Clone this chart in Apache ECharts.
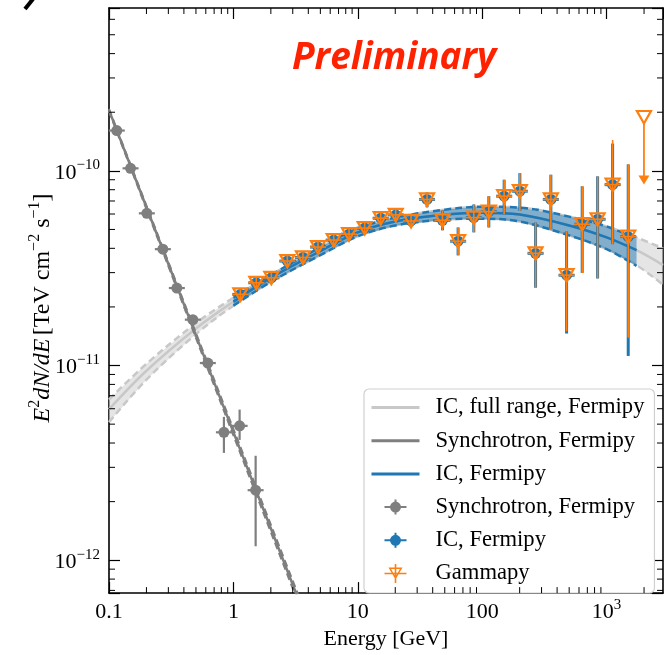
<!DOCTYPE html>
<html><head><meta charset="utf-8">
<script src="https://cdn.jsdelivr.net/npm/echarts@6/dist/echarts.min.js"></script>
<style>html,body{margin:0;padding:0;background:#fff}#c{width:664px;height:655px}</style>
</head><body><div id="c"></div>
<script>
// ---------- axes ----------
const xMin = 0.1, xMax = 2840;
const yMin = 6.78e-13, yMax = 6.86e-10;
const xTickValues = [0.1, 1, 10, 100, 1000];
const xTickLabels = ['{b|0.1}', '{b|1}', '{b|10}', '{b|100}', '{b|10}{s|3}'];
const yTickValues = [1e-12, 1e-11, 1e-10];
const yTickLabels = ['{b|10}{s|−12}', '{b|10}{s|−11}', '{b|10}{s|−10}'];

// ---------- model: IC full range (Fermipy) ----------
const icFullE  = [0.1, 0.2, 0.5, 1, 2, 5, 10, 20, 50, 100, 200, 500, 1000, 1740, 2840];
const icFullC  = [5.96e-12, 9.40e-12, 1.55e-11, 2.13e-11, 2.82e-11, 3.87e-11, 4.83e-11, 5.49e-11, 5.96e-11, 6.10e-11, 5.96e-11, 5.24e-11, 4.55e-11, 3.91e-11, 3.28e-11];
const icFullHi = [6.69e-12, 1.02e-11, 1.65e-11, 2.23e-11, 2.92e-11, 4.05e-11, 5.06e-11, 5.75e-11, 6.32e-11, 6.54e-11, 6.47e-11, 5.82e-11, 5.18e-11, 4.55e-11, 4.00e-11];
const icFullLo = [5.12e-12, 8.46e-12, 1.45e-11, 2.03e-11, 2.69e-11, 3.69e-11, 4.61e-11, 5.24e-11, 5.62e-11, 5.68e-11, 5.49e-11, 4.66e-11, 3.96e-11, 3.28e-11, 2.60e-11];

// ---------- model: IC (Fermipy, fit range) ----------
const icModE  = [1, 2, 5, 10, 20, 50, 100, 200, 500, 1000, 1740];
const icModC  = [2.13e-11, 2.82e-11, 3.87e-11, 4.83e-11, 5.49e-11, 5.96e-11, 6.10e-11, 5.96e-11, 5.24e-11, 4.55e-11, 3.91e-11];
const icModHi = [2.23e-11, 2.92e-11, 4.05e-11, 5.06e-11, 5.75e-11, 6.32e-11, 6.54e-11, 6.47e-11, 5.82e-11, 5.18e-11, 4.48e-11];
const icModLo = [2.03e-11, 2.69e-11, 3.69e-11, 4.61e-11, 5.24e-11, 5.62e-11, 5.68e-11, 5.49e-11, 4.66e-11, 3.96e-11, 3.25e-11];

// ---------- model: Synchrotron (Fermipy) ----------
const synModE  = [0.1, 0.3, 1, 3.5];
const synModC  = [2.05e-10, 3.32e-11, 4.55e-12, 5.82e-13];
const synModHi = [2.08e-10, 3.40e-11, 4.72e-12, 6.10e-13];
const synModLo = [2.02e-10, 3.24e-11, 4.38e-12, 5.55e-13];

// ---------- flux points: Synchrotron (Fermipy) ----------
const synE  = [0.1155, 0.149, 0.2014, 0.271, 0.351, 0.472, 0.623, 0.839, 1.122, 1.509];
const synF  = [1.61e-10, 1.03e-10, 6.05e-11, 3.96e-11, 2.50e-11, 1.72e-11, 1.03e-11, 4.54e-12, 4.90e-12, 2.29e-12];
const synLo = [1.57e-10, 1.00e-10, 5.88e-11, 3.84e-11, 2.42e-11, 1.66e-11, 9.8e-12, 3.56e-12, 4.15e-12, 1.18e-12];
const synHi = [1.65e-10, 1.06e-10, 6.22e-11, 4.08e-11, 2.58e-11, 1.78e-11, 1.08e-11, 5.45e-12, 5.94e-12, 3.44e-12];

// ---------- flux points: IC (Fermipy) ----------
const icE  = [1.137, 1.528, 2.018, 2.714, 3.623, 4.784, 6.40, 8.50, 11.36, 15.28, 20.18, 26.79, 36.03, 47.93, 64.0, 85.6, 113.0, 150.1, 200.7, 268.5, 356.3, 476.7, 636.5, 846.3, 1117.6, 1492];
const icF  = [2.32e-11, 2.66e-11, 2.82e-11, 3.44e-11, 3.59e-11, 4.06e-11, 4.41e-11, 4.73e-11, 5.08e-11, 5.71e-11, 5.94e-11, 5.53e-11, 7.13e-11, 5.57e-11, 4.35e-11, 5.75e-11, 6.17e-11, 7.41e-11, 7.86e-11, 3.77e-11, 7.13e-11, 2.91e-11, 5.32e-11, 5.64e-11, 8.49e-11, 4.59e-11];
const icLo = [2.19e-11, 2.51e-11, 2.66e-11, 3.25e-11, 3.39e-11, 3.83e-11, 4.16e-11, 4.45e-11, 4.78e-11, 5.36e-11, 5.57e-11, 5.16e-11, 6.50e-11, 4.95e-11, 3.68e-11, 4.83e-11, 5.12e-11, 5.98e-11, 6.22e-11, 2.51e-11, 5.02e-11, 1.46e-11, 2.99e-11, 2.80e-11, 4.20e-11, 1.12e-11];
const icHi = [2.46e-11, 2.82e-11, 2.99e-11, 3.65e-11, 3.81e-11, 4.31e-11, 4.68e-11, 5.03e-11, 5.40e-11, 6.08e-11, 6.33e-11, 5.91e-11, 7.75e-11, 6.25e-11, 5.12e-11, 6.72e-11, 7.41e-11, 9.00e-11, 9.73e-11, 5.43e-11, 9.55e-11, 4.89e-11, 8.33e-11, 9.37e-11, 1.38e-10, 1.08e-10];

// ---------- flux points: Gammapy ----------
const gpE  = [1.137, 1.528, 2.018, 2.714, 3.623, 4.784, 6.40, 8.50, 11.36, 15.28, 20.18, 26.79, 36.03, 47.93, 64.0, 85.6, 113.0, 150.1, 200.7, 268.5, 356.3, 476.7, 636.5, 846.3, 1117.6, 1492];
const gpF  = [2.32e-11, 2.66e-11, 2.82e-11, 3.44e-11, 3.59e-11, 4.06e-11, 4.41e-11, 4.73e-11, 5.08e-11, 5.71e-11, 5.94e-11, 5.53e-11, 7.13e-11, 5.57e-11, 4.35e-11, 5.75e-11, 6.17e-11, 7.41e-11, 7.86e-11, 3.77e-11, 7.13e-11, 2.91e-11, 5.32e-11, 5.64e-11, 8.49e-11, 4.59e-11];
const gpLo = [2.19e-11, 2.51e-11, 2.66e-11, 3.25e-11, 3.39e-11, 3.83e-11, 4.16e-11, 4.45e-11, 4.78e-11, 5.36e-11, 5.57e-11, 5.16e-11, 6.50e-11, 4.95e-11, 3.68e-11, 4.83e-11, 5.12e-11, 5.98e-11, 6.22e-11, 2.51e-11, 5.02e-11, 1.50e-11, 2.99e-11, 2.80e-11, 4.20e-11, 1.39e-11];
const gpHi = [2.46e-11, 2.82e-11, 2.99e-11, 3.65e-11, 3.81e-11, 4.31e-11, 4.68e-11, 5.03e-11, 5.40e-11, 6.08e-11, 6.33e-11, 5.91e-11, 7.75e-11, 6.25e-11, 5.12e-11, 6.72e-11, 7.41e-11, 9.00e-11, 9.73e-11, 5.43e-11, 9.55e-11, 4.89e-11, 8.33e-11, 9.37e-11, 1.44e-10, 1.08e-10];
// upper limit [E, UL, arrow end]
const gpUL = [[1996, 1.89e-10, 8.5e-11]];

// legend labels
const legendNames = ['IC, full range, Fermipy', 'Synchrotron, Fermipy', 'IC, Fermipy', 'Synchrotron, Fermipy ', 'IC, Fermipy ', 'Gammapy'];

// ---------- build ----------
const SERIF = 'Liberation Serif';
const C_LGRAY = '#c8c8c8', C_GRAY = '#7f7f7f', C_BLUE = '#1f77b4', C_ORANGE = '#ff7f0e';

const xMinor = [];
for (let d = -1; d <= 3; d++) for (let m = 2; m <= 9; m++) { const v = m * Math.pow(10, d); if (v < xMax) xMinor.push(v); }
const yMinor = [];
for (let d = -13; d <= -10; d++) for (let m = 2; m <= 9; m++) { const v = m * Math.pow(10, d); if (v > yMin && v < yMax) yMinor.push(v); }

function pairs(E, V) { return E.map((e, i) => [e, V[i]]); }
function lineS(name, E, V, color, width, dashed, z) {
  return { type: 'line', name, data: pairs(E, V), symbol: 'none', showSymbol: false, smooth: 0.35,
    lineStyle: { color, width, type: dashed ? [7, 4] : 'solid' }, itemStyle: { color }, z, silent: true };
}
function fillS(name, E, lo, hi, fill, legendColor, z) {
  return { type: 'custom', name, data: pairs(E, lo), itemStyle: { color: legendColor }, z, silent: true,
    renderItem: (params, api) => {
      if (params.dataIndex !== 0) return null;
      const pts = [];
      for (let i = 0; i < E.length; i++) pts.push(api.coord([E[i], hi[i]]));
      for (let i = E.length - 1; i >= 0; i--) pts.push(api.coord([E[i], lo[i]]));
      return { type: 'polygon', shape: { points: pts }, style: { fill } };
    } };
}
function errS(name, E, F, lo, hi, color, lw, hw, marker, z) {
  return { type: 'custom', name, data: E.map((e, i) => [e, F[i], lo[i], hi[i]]), itemStyle: { color }, z, silent: true,
    renderItem: (params, api) => {
      const e = api.value(0);
      const p = api.coord([e, api.value(1)]);
      const pl = api.coord([e, api.value(2)]);
      const ph = api.coord([e, api.value(3)]);
      const ch = [
        { type: 'line', shape: { x1: p[0], y1: ph[1], x2: p[0], y2: pl[1] }, style: { stroke: color, lineWidth: lw } },
        { type: 'line', shape: { x1: p[0] - hw, y1: p[1], x2: p[0] + hw, y2: p[1] }, style: { stroke: color, lineWidth: lw } }
      ];
      if (marker === 'circle') ch.push({ type: 'circle', shape: { cx: p[0], cy: p[1], r: 5.5 }, style: { fill: color } });
      if (marker === 'tri') ch.push({ type: 'polygon', shape: { points: [[p[0] - 7, p[1] - 6], [p[0] + 7, p[1] - 6], [p[0], p[1] + 6.5]] }, style: { fill: 'none', stroke: color, lineWidth: 2.2 } });
      return { type: 'group', children: ch };
    } };
}

const series = [
  fillS('IC, full range, Fermipy', icFullE, icFullLo, icFullHi, 'rgba(211,211,211,0.6)', C_LGRAY, 1),
  lineS('_icFullHi', icFullE, icFullHi, C_LGRAY, 2.5, true, 1),
  lineS('_icFullLo', icFullE, icFullLo, C_LGRAY, 2.5, true, 1),
  lineS('_icFullC', icFullE, icFullC, C_LGRAY, 2.5, false, 1),
  fillS('IC, Fermipy', icModE, icModLo, icModHi, 'rgba(31,119,180,0.5)', C_BLUE, 2),
  lineS('_icHi', icModE, icModHi, C_BLUE, 2.5, true, 2),
  lineS('_icLo', icModE, icModLo, C_BLUE, 2.5, true, 2),
  lineS('_icC', icModE, icModC, C_BLUE, 2.5, false, 2),
  lineS('_synHi', synModE, synModHi, C_GRAY, 2, true, 3),
  lineS('_synLo', synModE, synModLo, C_GRAY, 2, true, 3),
  lineS('Synchrotron, Fermipy', synModE, synModC, C_GRAY, 2.5, false, 3),
  errS('Synchrotron, Fermipy ', synE, synF, synLo, synHi, C_GRAY, 2.2, 8, 'circle', 4),
  errS('IC, Fermipy ', icE, icF, icLo, icHi, C_BLUE, 3, 8, 'circle', 5),
  errS('Gammapy', gpE, gpF, gpLo, gpHi, C_ORANGE, 1.6, 8, 'tri', 6),
  { type: 'custom', name: '_gpUL', data: gpUL, z: 6, silent: true, itemStyle: { color: C_ORANGE },
    renderItem: (params, api) => {
      const e = api.value(0);
      const p = api.coord([e, api.value(1)]);
      const q = api.coord([e, api.value(2)]);
      return { type: 'group', children: [
        { type: 'line', shape: { x1: p[0], y1: p[1], x2: p[0], y2: q[1] - 8 }, style: { stroke: C_ORANGE, lineWidth: 1.8 } },
        { type: 'line', shape: { x1: p[0] - 8, y1: p[1] - 6, x2: p[0] + 8, y2: p[1] - 6 }, style: { stroke: C_ORANGE, lineWidth: 1.8 } },
        { type: 'polygon', shape: { points: [[p[0] - 7, p[1] - 6], [p[0] + 7, p[1] - 6], [p[0], p[1] + 6.5]] }, style: { fill: '#fff', stroke: C_ORANGE, lineWidth: 2.2 } },
        { type: 'polygon', shape: { points: [[q[0] - 5.5, q[1] - 9], [q[0] + 5.5, q[1] - 9], [q[0], q[1]]] }, style: { fill: C_ORANGE } }
      ] };
    } },
  // minor ticks (x)
  { type: 'custom', name: '_xminor', data: xMinor.map(v => [v, yMin]), z: 10, silent: true,
    renderItem: (params, api) => {
      const cs = params.coordSys; const p = api.coord([api.value(0), api.value(1)]);
      return { type: 'group', children: [
        { type: 'line', shape: { x1: p[0], y1: cs.y + cs.height, x2: p[0], y2: cs.y + cs.height - 6 }, style: { stroke: '#000', lineWidth: 1 } },
        { type: 'line', shape: { x1: p[0], y1: cs.y, x2: p[0], y2: cs.y + 6 }, style: { stroke: '#000', lineWidth: 1 } } ] };
    } },
  // minor ticks (y)
  { type: 'custom', name: '_yminor', data: yMinor.map(v => [xMin, v]), z: 10, silent: true,
    renderItem: (params, api) => {
      const cs = params.coordSys; const p = api.coord([api.value(0), api.value(1)]);
      return { type: 'group', children: [
        { type: 'line', shape: { x1: cs.x, y1: p[1], x2: cs.x + 6, y2: p[1] }, style: { stroke: '#000', lineWidth: 1 } },
        { type: 'line', shape: { x1: cs.x + cs.width, y1: p[1], x2: cs.x + cs.width - 6, y2: p[1] }, style: { stroke: '#000', lineWidth: 1 } } ] };
    } }
];

function findLabel(vals, labels, v) {
  for (let i = 0; i < vals.length; i++) if (Math.abs(Math.log10(vals[i]) - Math.log10(v)) < 1e-6) return labels[i];
  return '';
}
const labelRich = {
  b: { fontFamily: SERIF, fontSize: 22, lineHeight: 26, verticalAlign: 'bottom', color: '#000' },
  s: { fontFamily: SERIF, fontSize: 15, lineHeight: 16, verticalAlign: 'top', color: '#000' }
};
const axisLineStyle = { color: '#000', width: 1.6 };
const majorTick = { show: true, inside: true, length: 11, lineStyle: { color: '#000', width: 1.2 } };

const iconLine = 'path://M0,0H48V3H0Z';
const iconErr = 'path://M0,0M48,20M13,9H35V11H13ZM23,2.5H25V17.5H23ZM18.5,10A5.5,5.5 0 1,1 29.5,10A5.5,5.5 0 1,1 18.5,10Z';
const iconTri = 'path://M0,0M48,20M17,4H31L24,16ZM19.6,5.6L24,13.2L28.4,5.6ZM13,9.2H35V10.8H13ZM23.2,0.5H24.8V19.5H23.2Z';

const option = {
  animation: false,
  backgroundColor: '#fff',
  grid: { left: 109, right: 1, top: 8, bottom: 55, containLabel: false },
  xAxis: [
    { type: 'log', logBase: 10, min: xMin, max: xMax, splitNumber: 5, position: 'bottom',
      name: 'Energy [GeV]', nameLocation: 'middle', nameGap: 25,
      nameTextStyle: { fontFamily: SERIF, fontSize: 22, color: '#000' },
      axisLine: { lineStyle: axisLineStyle }, axisTick: majorTick, splitLine: { show: false },
      axisLabel: { margin: 4, formatter: v => findLabel(xTickValues, xTickLabels, v), rich: labelRich, showMaxLabel: false } },
    { type: 'log', logBase: 10, min: xMin, max: xMax, splitNumber: 5, position: 'top',
      axisLine: { lineStyle: axisLineStyle }, axisTick: majorTick, splitLine: { show: false }, axisLabel: { show: false } }
  ],
  yAxis: [
    { type: 'log', logBase: 10, min: yMin, max: yMax, splitNumber: 3, position: 'left',
      axisLine: { lineStyle: axisLineStyle }, axisTick: majorTick, splitLine: { show: false },
      axisLabel: { margin: 9, formatter: v => findLabel(yTickValues, yTickLabels, v), rich: labelRich } },
    { type: 'log', logBase: 10, min: yMin, max: yMax, splitNumber: 3, position: 'right',
      axisLine: { lineStyle: axisLineStyle }, axisTick: majorTick, splitLine: { show: false }, axisLabel: { show: false } }
  ],
  legend: {
    orient: 'vertical', left: 364, top: 389, padding: [7, 10, 8, 7.5], itemGap: 10.2,
    itemWidth: 48, itemHeight: 20, selectedMode: false,
    backgroundColor: '#fff', borderColor: '#d0d0d0', borderWidth: 1.2, borderRadius: 5,
    itemStyle: { borderWidth: 0 },
    textStyle: { fontFamily: SERIF, fontSize: 22.6, color: '#000', lineHeight: 20, padding: [0, 0, 0, 11] },
    formatter: n => n.trim(),
    data: [
      { name: legendNames[0], icon: iconLine },
      { name: legendNames[1], icon: iconLine },
      { name: legendNames[2], icon: iconLine },
      { name: legendNames[3], icon: iconErr },
      { name: legendNames[4], icon: iconErr },
      { name: legendNames[5], icon: iconTri }
    ]
  },
  graphic: [
    { type: 'text', left: 292, top: 40, z: 20,
      style: { text: 'Preliminary', fill: '#ff2200', fontFamily: 'Open Sans', fontSize: 37, fontWeight: 'bold', fontStyle: 'italic' } },
    { type: 'text', x: 41, y: 308, rotation: Math.PI / 2, z: 20,
      style: {
        text: '{i|E}{s|2}{i|dN/dE} {n|[TeV cm}{s|−2}{n| s}{s|−1}{n|]}',
        align: 'center', verticalAlign: 'middle',
        rich: {
          i: { fontFamily: SERIF, fontStyle: 'italic', fontSize: 24, lineHeight: 28, verticalAlign: 'bottom', fill: '#000' },
          n: { fontFamily: SERIF, fontSize: 24, lineHeight: 28, verticalAlign: 'bottom', fill: '#000' },
          s: { fontFamily: SERIF, fontSize: 16, lineHeight: 17, verticalAlign: 'top', fill: '#000' }
        }
      } },
    { type: 'line', shape: { x1: 33, y1: -1, x2: 25, y2: 9 }, style: { stroke: '#000', lineWidth: 4 } }
  ],
  series
};
const chart = echarts.init(document.getElementById('c'));
chart.setOption(option);
</script>
</body></html>
